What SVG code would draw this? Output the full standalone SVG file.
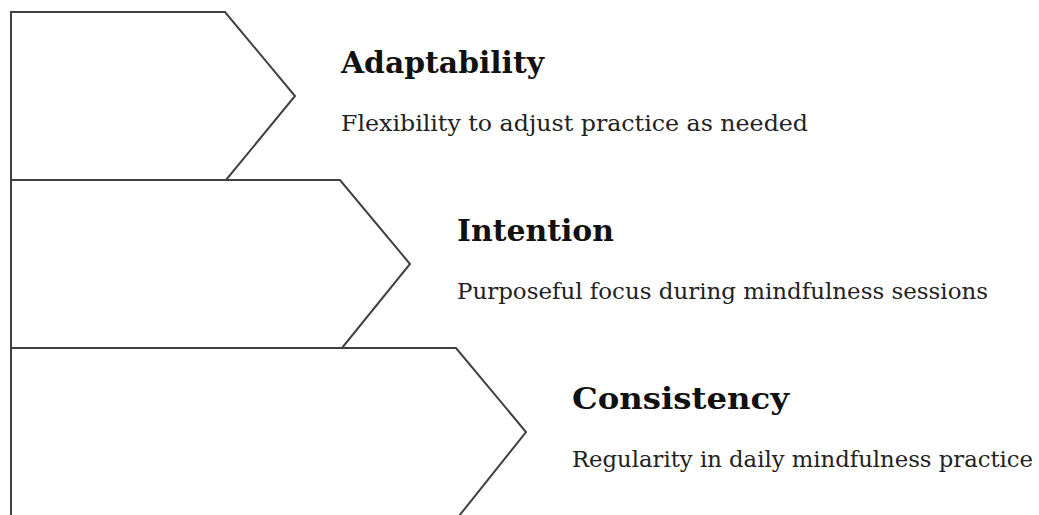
<svg xmlns="http://www.w3.org/2000/svg" width="1039" height="515" viewBox="0 0 1039 515">
<style>
.shape{fill:#ffffff;stroke:#404040;stroke-width:2;stroke-linejoin:miter}
.title{font-family:"DejaVu Serif","Liberation Serif",serif;font-weight:bold;font-size:29px;fill:#111111}
.desc{font-family:"DejaVu Serif","Liberation Serif",serif;font-size:22px;fill:#222222}
</style>
<rect width="1039" height="515" fill="#ffffff"/>
<g id="consistency">
<path class="shape" d="M11,348 H456 L526,432 L459,516 H11 Z"/>
<text class="title" x="572" y="409" textLength="217" lengthAdjust="spacingAndGlyphs">Consistency</text>
<text class="desc" x="572" y="467" textLength="461" lengthAdjust="spacingAndGlyphs">Regularity in daily mindfulness practice</text>
</g>
<g id="intention">
<path class="shape" d="M11,180 H340 L410,264 L342,348 H11 Z"/>
<text class="title" x="457" y="241" textLength="157" lengthAdjust="spacingAndGlyphs">Intention</text>
<text class="desc" x="457" y="299" textLength="531" lengthAdjust="spacingAndGlyphs">Purposeful focus during mindfulness sessions</text>
</g>
<g id="adaptability">
<path class="shape" d="M11,12 H225 L295,96 L226,180 H11 Z"/>
<text class="title" x="341" y="73" textLength="203" lengthAdjust="spacingAndGlyphs">Adaptability</text>
<text class="desc" x="341" y="131" textLength="467" lengthAdjust="spacingAndGlyphs">Flexibility to adjust practice as needed</text>
</g>
<g id="connectors"></g>
</svg>
